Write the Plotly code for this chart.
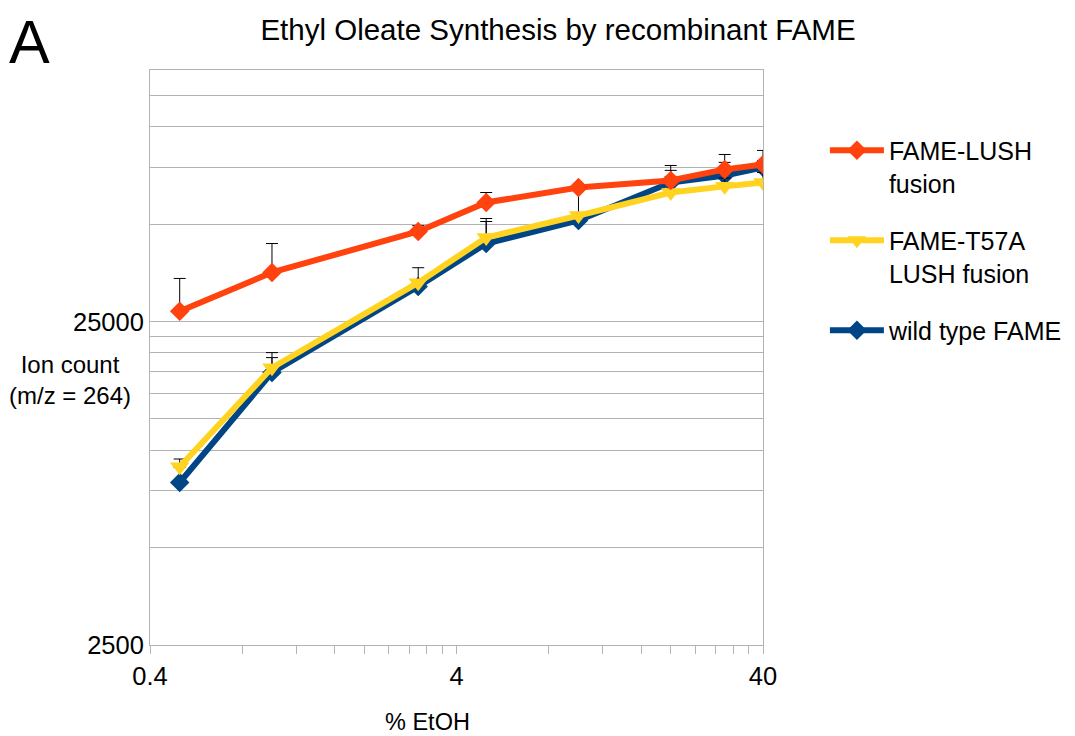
import plotly.graph_objects as go

# ---- data ----
etoh = [0.5, 1, 3, 5, 10, 20, 30, 40]

lush_name = "FAME-LUSH<br>fusion"
lush = [26900, 35500, 47500, 58400, 65000, 68300, 73900, 76600]
lush_err = [7100, 8100, 2000, 4300, 800, 7700, 8300, 8000]

t57a_name = "FAME-T57A<br>LUSH fusion"
t57a = [8900, 18000, 33000, 45500, 53200, 62700, 65500, 67300]
t57a_err = [500, 2050, 3700, 6600, 12300, 10700, 4000, 5000]

wt_name = "wild type FAME"
wt = [7950, 17400, 32100, 43600, 51400, 67300, 70800, 75000]
wt_err = [900, 1950, 1500, 7400, 1500, 3000, 6900, 3700]

x_major = [0.4, 4, 40]
x_minor = [0.8, 1.2, 1.6, 2.0, 2.4, 2.8, 3.2, 3.6, 8, 12, 16, 20, 24, 28, 32, 36]
y_grid = [2500, 5000, 7500, 10000, 12500, 15000, 17500, 20000, 22500,
          25000, 50000, 75000, 100000, 125000, 150000]
y_labels = {2500: "2500", 25000: "25000"}

RED = "#ff420e"
YEL = "#ffd320"
BLU = "#004586"
GRID = "#b3b3b3"
FONT = "Liberation Sans, Arial, sans-serif"

fig = go.Figure()


def add(name, y, err, color, symbol, size, rank):
    fig.add_trace(go.Scatter(
        x=etoh, y=y, name=name, mode="lines+markers",
        line=dict(color=color, width=6),
        marker=dict(symbol=symbol, size=size, color=color),
        error_y=dict(type="data", symmetric=False, array=err,
                     arrayminus=[0] * len(err), color="black",
                     thickness=1, width=6),
        legendrank=rank, legendgroup=str(rank),
    ))


add(wt_name, wt, wt_err, BLU, "diamond", 15, 3)
add(t57a_name, t57a, t57a_err, YEL, "triangle-down", 17, 2)
add(lush_name, lush, lush_err, RED, "diamond", 15, 1)

fig.update_layout(
    width=1067, height=728,
    margin=dict(l=142, r=312, t=62, b=91, autoexpand=False),
    paper_bgcolor="white", plot_bgcolor="white",
    font=dict(family=FONT, size=24, color="black"),
    title=dict(text="Ethyl Oleate Synthesis by recombinant FAME",
               x=0.5155, xanchor="center", y=0.9698, yanchor="middle",
               font=dict(size=29.5)),
    showlegend=True,
    legend=dict(x=1.101, y=0.90, xanchor="left", yanchor="top",
                valign="top", tracegroupgap=22, itemwidth=54,
                font=dict(size=25), bgcolor="rgba(0,0,0,0)"),
    xaxis=dict(type="log", range=[-0.397940009, 1.602059991],
               tickvals=x_major, ticktext=["0.4", "4", "40"],
               ticks="outside", ticklen=8, tickcolor=GRID,
               showgrid=False, zeroline=False,
               showline=True, linecolor=GRID, linewidth=1, mirror=True,
               tickfont=dict(size=25.5),
               minor=dict(tickvals=x_minor, ticks="outside", ticklen=8,
                          tickcolor=GRID, showgrid=False)),
    yaxis=dict(type="log", range=[3.397940009, 5.176091259],
               tickvals=y_grid,
               ticktext=[y_labels.get(v, "") for v in y_grid],
               ticks="", showgrid=True, gridcolor=GRID, gridwidth=1,
               zeroline=False, showline=True, linecolor=GRID,
               linewidth=1, mirror=True, tickfont=dict(size=25.5)),
)

fig.add_annotation(text="A", xref="paper", yref="paper",
                   x=-0.1958, y=1.0487, showarrow=False,
                   font=dict(size=61), xanchor="center", yanchor="middle")
fig.add_annotation(text="Ion count<br>(m/z = 264)", xref="paper", yref="paper",
                   x=-0.130, y=0.461, showarrow=False,
                   font=dict(size=24), xanchor="center", yanchor="middle")
fig.add_annotation(text="% EtOH", xref="paper", yref="paper",
                   x=0.4535, y=-0.134, showarrow=False,
                   font=dict(size=23.5), xanchor="center", yanchor="middle")

fig.write_html("out.html")
